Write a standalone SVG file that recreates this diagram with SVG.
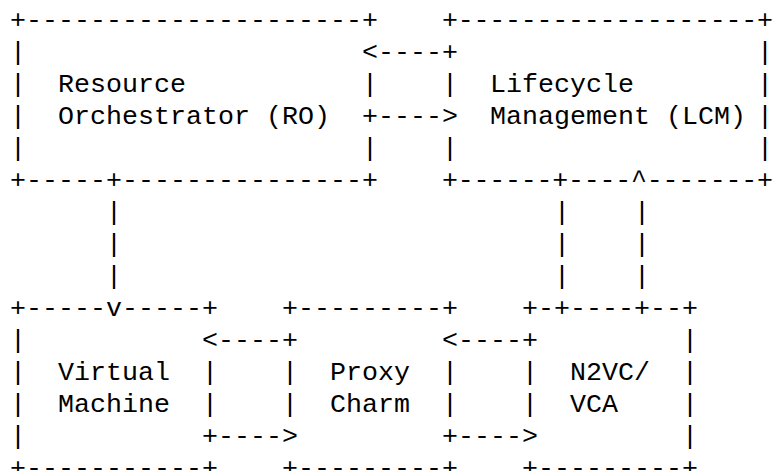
<svg xmlns="http://www.w3.org/2000/svg" width="774" height="471" viewBox="0 0 774 471">
<style>
text{font-family:"Liberation Mono","Courier New",monospace;font-size:26.667px;fill:#000;white-space:pre}
</style>
<rect x="0" y="0" width="774" height="471" fill="#fff"/>
<g id="ro">
<text x="10" y="28">+---------------------+</text>
<text x="10" y="60">|</text>
<text x="10" y="92">|</text><text x="58" y="92">Resource</text><text x="362" y="92">|</text>
<text x="10" y="124">|</text><text x="58" y="124">Orchestrator (RO)</text>
<text x="10" y="156">|</text><text x="362" y="156">|</text>
<text x="10" y="188">+-----+---------------+</text>
</g>
<g id="lcm">
<text x="442" y="28" textLength="331" lengthAdjust="spacing">+-------------------+</text>
<text x="757" y="60">|</text>
<text x="442" y="92">|</text><text x="490" y="92">Lifecycle</text><text x="757" y="92">|</text>
<text x="490" y="124">Management (LCM)</text><text x="757" y="124">|</text>
<text x="442" y="156">|</text><text x="757" y="156">|</text>
<text x="442" y="188" textLength="331" lengthAdjust="spacing">+------+----^-------+</text>
</g>
<g id="vm">
<text x="10" y="316">+-----v-----+</text>
<text x="10" y="348">|</text>
<text x="10" y="380">|</text><text x="58" y="380">Virtual</text><text x="202" y="380">|</text>
<text x="10" y="412">|</text><text x="58" y="412">Machine</text><text x="202" y="412">|</text>
<text x="10" y="444">|</text>
<text x="10" y="476">+-----------+</text>
</g>
<g id="proxy">
<text x="282" y="316">+---------+</text>
<text x="282" y="380">|</text><text x="330" y="380">Proxy</text><text x="442" y="380">|</text>
<text x="282" y="412">|</text><text x="330" y="412">Charm</text><text x="442" y="412">|</text>
<text x="282" y="476">+---------+</text>
</g>
<g id="n2vc">
<text x="522" y="316">+-+----+--+</text>
<text x="682" y="348">|</text>
<text x="522" y="380">|</text><text x="570" y="380">N2VC/</text><text x="682" y="380">|</text>
<text x="522" y="412">|</text><text x="570" y="412">VCA</text><text x="682" y="412">|</text>
<text x="682" y="444">|</text>
<text x="522" y="476">+---------+</text>
</g>
<g id="connectors">
<text x="362" y="60">&lt;----+</text>
<text x="362" y="124">+----&gt;</text>
<text x="106" y="220">|</text><text x="106" y="252">|</text><text x="106" y="284">|</text>
<text x="554" y="220">|</text><text x="554" y="252">|</text><text x="554" y="284">|</text>
<text x="634" y="220">|</text><text x="634" y="252">|</text><text x="634" y="284">|</text>
<text x="202" y="348">&lt;----+</text>
<text x="442" y="348">&lt;----+</text>
<text x="202" y="444">+----&gt;</text>
<text x="442" y="444">+----&gt;</text>
</g>
</svg>
